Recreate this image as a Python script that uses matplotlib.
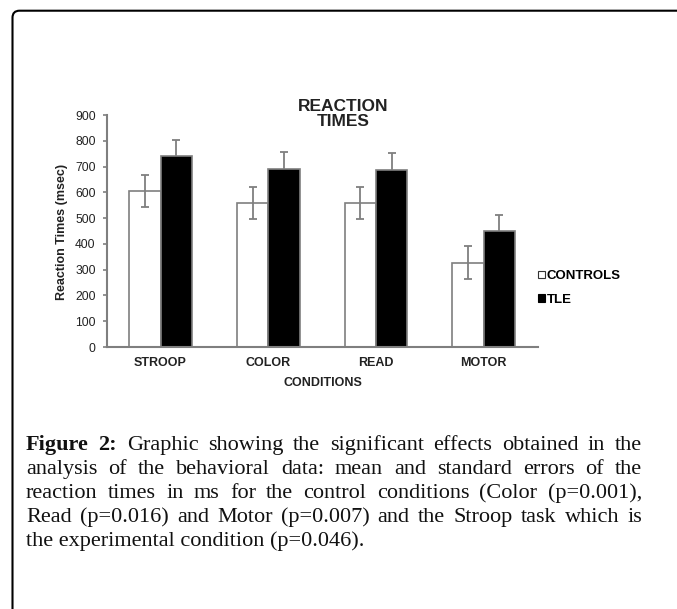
import numpy as np
import matplotlib
matplotlib.use("Agg")
import matplotlib.pyplot as plt
from matplotlib.patches import FancyBboxPatch, Patch
from matplotlib.transforms import IdentityTransform

conditions = ["STROOP", "COLOR", "READ", "MOTOR"]
controls = [604, 558, 558, 327]
controls_err = [62, 61, 61, 64]
tle = [740, 689, 685, 451]
tle_err = [62, 68, 68, 62]
yticks = list(range(0, 1000, 100))
legend_labels = ["CONTROLS", "TLE"]

caption_label = "Figure 2:"
caption_lines = [
    "Figure 2: Graphic showing the significant effects obtained in the",
    "analysis of the behavioral data: mean and standard errors of the",
    "reaction times in ms for the control conditions (Color (p=0.001),",
    "Read (p=0.016) and Motor (p=0.007) and the Stroop task which is",
    "the experimental condition (p=0.046).",
]

W, H = 677, 609
grey = "#7f7f7f"
ink = "#222222"
sans = "Liberation Sans"
serif = "Liberation Serif"

fig = plt.figure(figsize=(W / 100, H / 100), dpi=100)
fig.patch.set_facecolor("white")

# chart area (pixel positions)
ax = fig.add_axes([106.7 / W, 1 - 347 / H, (537.6 - 106.7) / W, (347 - 115) / H])

x = np.arange(len(conditions))
w = 0.292
ax.bar(x - w / 2, controls, w, color="white", edgecolor=grey, linewidth=1.2, zorder=2)
ax.bar(x + w / 2, tle, w, color="black", edgecolor=grey, linewidth=1.2, zorder=2)
ax.errorbar(x - w / 2, controls, yerr=controls_err, fmt="none", ecolor=grey,
            elinewidth=1.3, capsize=3.2, capthick=1.3, zorder=3)
ax.errorbar(x + w / 2, tle, yerr=tle_err, fmt="none", ecolor=grey,
            elinewidth=1.3, capsize=3.2, capthick=1.3, zorder=1)

ax.set_xlim(-0.5, 3.5)
ax.set_ylim(0, 900)
ax.set_yticks(yticks)
ax.set_xticks(x)
ax.set_xticklabels(conditions, fontfamily=sans, fontweight="bold", fontsize=9, color=ink)
for lbl in ax.get_yticklabels():
    lbl.set_fontfamily(sans)
ax.tick_params(axis="y", direction="out", length=3, width=1.2, color=grey,
               labelsize=8.7, labelcolor=ink, pad=5)
ax.tick_params(axis="x", length=0, pad=7)
for side in ["top", "right"]:
    ax.spines[side].set_visible(False)
for side in ["left", "bottom"]:
    ax.spines[side].set_color(grey)
    ax.spines[side].set_linewidth(1.5)

fig.text(61.7 / W, 1 - 232 / H, "Reaction Times (msec)", rotation=90, ha="center", va="center",
         fontfamily=sans, fontweight="bold", fontsize=9, color=ink)
fig.text(322.5 / W, 1 - 383.3 / H, "CONDITIONS", ha="center", va="center",
         fontfamily=sans, fontweight="bold", fontsize=9, color=ink)
fig.text(343 / W, 1 - 114.5 / H, "REACTION\nTIMES", ha="center", va="center",
         fontfamily=sans, fontweight="bold", fontsize=12.5, color=ink, linespacing=1.0)

handles = [Patch(facecolor="white", edgecolor="#333333", linewidth=0.8),
           Patch(facecolor="black", edgecolor="black", linewidth=0.8)]
fig.legend(handles, legend_labels, loc="center left", bbox_to_anchor=(538 / W, 1 - 288 / H),
           frameon=False, handlelength=0.5, handleheight=0.5, handletextpad=0.15,
           labelspacing=0.85, borderpad=0, borderaxespad=0,
           prop={"family": sans, "weight": "bold", "size": 9.5})

# rounded frame that runs off the right and bottom edges
frame = FancyBboxPatch((12.5, -60), 760, H - 10.7 + 60,
                       boxstyle="round,pad=0,rounding_size=7",
                       transform=IdentityTransform(), fill=False,
                       edgecolor="black", linewidth=1.5)
fig.add_artist(frame)

# justified caption
renderer = fig.canvas.get_renderer()
left_px, right_px = 26, 642
baselines = [450, 474, 498, 522, 546]
cap_size = 16
label_words = caption_label.split()
for i, line in enumerate(caption_lines):
    yb = 1 - baselines[i] / H
    if i == len(caption_lines) - 1:
        fig.text(left_px / W, yb, line, ha="left", va="baseline",
                 fontfamily=serif, fontsize=cap_size, color="#111111")
        continue
    words = line.split()
    texts = []
    for j, word in enumerate(words):
        bold = i == 0 and j < len(label_words)
        t = fig.text(0, yb, word, ha="left", va="baseline", fontfamily=serif,
                     fontsize=cap_size, fontweight="bold" if bold else "normal",
                     color="#111111")
        texts.append(t)
    widths = [t.get_window_extent(renderer).width for t in texts]
    gap = (right_px - left_px - sum(widths)) / (len(texts) - 1)
    xpos = left_px
    for t, wd in zip(texts, widths):
        t.set_x(xpos / W)
        xpos += wd + gap

fig.savefig("out.png", dpi=100)
